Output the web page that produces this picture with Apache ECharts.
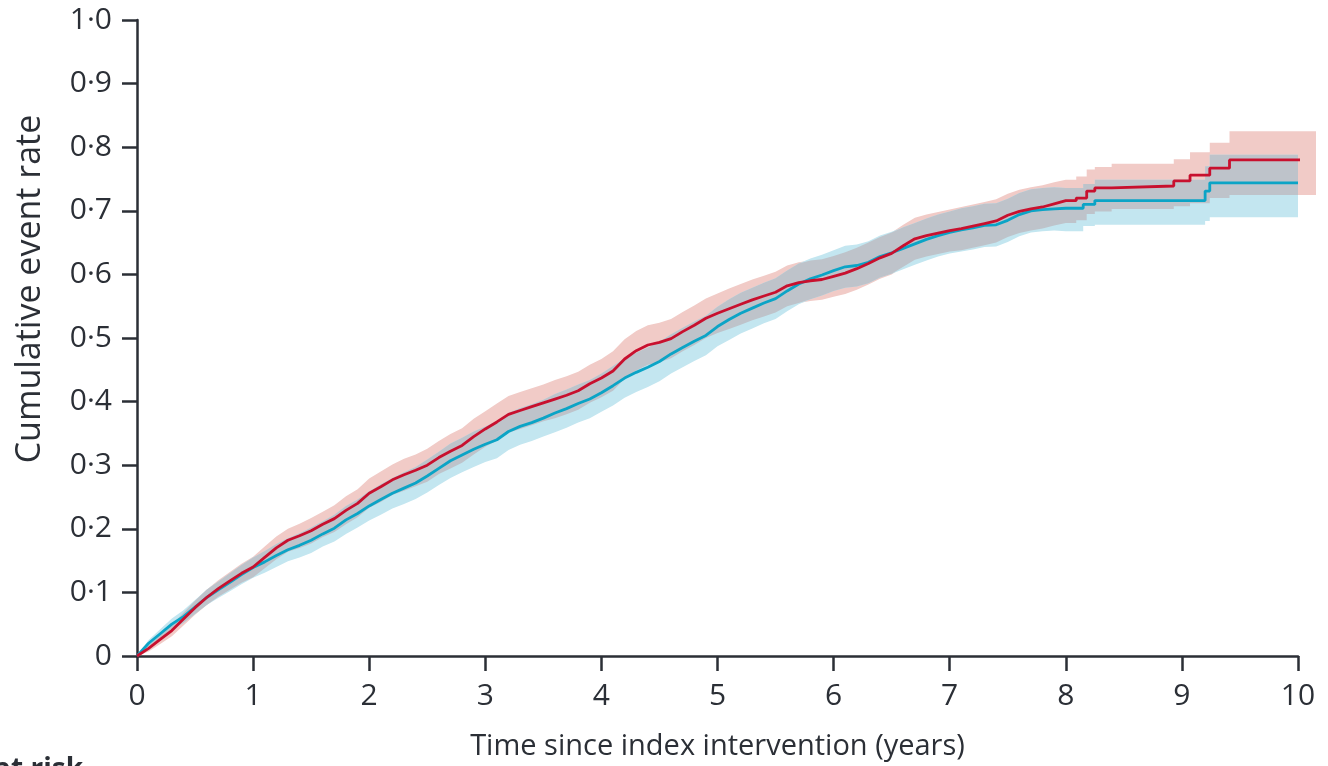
<!DOCTYPE html>
<html>
<head>
<meta charset="utf-8">
<script src="https://cdn.jsdelivr.net/npm/echarts@6/dist/echarts.min.js"></script>
<style>
html,body{margin:0;padding:0;background:#fff;}
#chart{width:1328px;height:766px;}
</style>
</head>
<body>
<div id="chart"></div>
<script>
// ---- data ----
const years = [
 0,0.1,0.2,0.3,0.4,0.5,0.6,0.7,0.8,0.9,
 1.0,1.1,1.2,1.3,1.4,1.5,1.6,1.7,1.8,1.9,
 2.0,2.1,2.2,2.3,2.4,2.5,2.6,2.7,2.8,2.9,
 3.0,3.1,3.2,3.3,3.4,3.5,3.6,3.7,3.8,3.9,
 4.0,4.1,4.2,4.3,4.4,4.5,4.6,4.7,4.8,4.9,
 5.0,5.1,5.2,5.3,5.4,5.5,5.6,5.7,5.8,5.9,
 6.0,6.1,6.2,6.3,6.4,6.5,6.6,6.7,6.8,6.9,
 7.0,7.1,7.2,7.3,7.4,7.5,7.6,7.7,7.8,7.9,
 8.0,8.09,8.09,8.15,8.15,8.18,8.18,8.25,8.25,8.395,8.395,8.93,8.93,9.07,9.07,9.2,9.2,9.24,9.24,9.41,9.41,10.0,10.155
];
const redRate = [
 0,0.012,0.026,0.040,0.058,0.076,0.092,0.106,0.118,0.130,
 0.140,0.155,0.170,0.182,0.189,0.197,0.207,0.216,0.229,0.240,
 0.256,0.266,0.277,0.285,0.292,0.300,0.312,0.322,0.331,0.345,
 0.357,0.368,0.380,0.386,0.392,0.398,0.404,0.410,0.417,0.428,
 0.437,0.448,0.467,0.480,0.489,0.493,0.499,0.510,0.520,0.531,
 0.539,0.546,0.553,0.560,0.566,0.572,0.582,0.587,0.590,0.592,
 0.597,0.602,0.609,0.617,0.626,0.633,0.645,0.656,0.661,0.665,
 0.669,0.672,0.676,0.680,0.684,0.693,0.699,0.703,0.706,0.711,
 0.716,0.716,0.720,0.720,0.720,0.720,0.731,0.731,0.736,0.736,0.739,0.739,0.747,0.747,0.756,0.756,0.756,0.756,0.767,0.767,0.780,0.780,0.780
];
const redUpper = [
 0,0.017,0.033,0.049,0.068,0.087,0.104,0.119,0.132,0.145,
 0.156,0.172,0.188,0.200,0.208,0.217,0.227,0.237,0.251,0.262,
 0.279,0.290,0.301,0.310,0.317,0.326,0.338,0.349,0.358,0.373,
 0.385,0.397,0.409,0.415,0.421,0.427,0.434,0.440,0.447,0.458,
 0.467,0.479,0.498,0.511,0.520,0.524,0.530,0.541,0.551,0.562,
 0.570,0.578,0.585,0.592,0.598,0.604,0.614,0.619,0.622,0.624,
 0.629,0.635,0.642,0.650,0.659,0.666,0.678,0.689,0.694,0.698,
 0.702,0.706,0.710,0.714,0.718,0.727,0.733,0.737,0.740,0.745,
 0.749,0.749,0.754,0.754,0.754,0.754,0.765,0.765,0.769,0.769,0.774,0.774,0.781,0.781,0.792,0.792,0.792,0.792,0.807,0.807,0.825,0.825,0.825
];
const redLower = [
 0,0.007,0.019,0.031,0.048,0.065,0.080,0.093,0.104,0.115,
 0.124,0.138,0.152,0.164,0.170,0.177,0.187,0.195,0.207,0.218,
 0.233,0.242,0.253,0.260,0.267,0.274,0.286,0.295,0.304,0.317,
 0.329,0.339,0.351,0.357,0.363,0.369,0.374,0.380,0.387,0.398,
 0.407,0.417,0.436,0.449,0.458,0.462,0.468,0.479,0.489,0.500,
 0.508,0.514,0.521,0.528,0.534,0.540,0.550,0.555,0.558,0.560,
 0.565,0.569,0.576,0.584,0.593,0.600,0.612,0.623,0.628,0.632,
 0.636,0.638,0.642,0.646,0.650,0.659,0.665,0.669,0.672,0.677,
 0.681,0.681,0.685,0.685,0.685,0.685,0.695,0.695,0.699,0.699,0.703,0.703,0.707,0.707,0.712,0.712,0.712,0.712,0.720,0.720,0.725,0.725,0.725
];
const blueRate = [
 0,0.020,0.035,0.050,0.062,0.077,0.092,0.104,0.116,0.128,
 0.139,0.148,0.158,0.167,0.174,0.182,0.192,0.201,0.214,0.224,
 0.236,0.246,0.256,0.264,0.272,0.283,0.295,0.307,0.316,0.325,
 0.333,0.340,0.353,0.361,0.367,0.374,0.382,0.389,0.397,0.404,
 0.414,0.425,0.437,0.446,0.454,0.463,0.475,0.485,0.495,0.504,
 0.518,0.529,0.539,0.547,0.555,0.562,0.574,0.585,0.593,0.599,
 0.606,0.612,0.614,0.619,0.628,0.634,0.641,0.648,0.655,0.661,
 0.666,0.670,0.673,0.677,0.678,0.685,0.694,0.700,0.702,0.703,
 0.704,0.704,0.704,0.704,0.710,0.710,0.710,0.710,0.716,0.716,0.716,0.716,0.716,0.716,0.716,0.716,0.731,0.731,0.744,0.744,0.744,0.744,null
];
const blueUpper = [
 0,0.025,0.042,0.059,0.072,0.088,0.104,0.117,0.130,0.143,
 0.155,0.165,0.176,0.185,0.193,0.202,0.212,0.222,0.236,0.246,
 0.259,0.270,0.280,0.289,0.297,0.309,0.321,0.334,0.343,0.353,
 0.361,0.369,0.382,0.390,0.396,0.403,0.412,0.419,0.427,0.434,
 0.444,0.456,0.468,0.477,0.485,0.494,0.506,0.516,0.526,0.535,
 0.549,0.561,0.571,0.579,0.587,0.594,0.606,0.617,0.625,0.631,
 0.638,0.645,0.647,0.652,0.661,0.667,0.674,0.681,0.688,0.694,
 0.699,0.704,0.707,0.711,0.712,0.719,0.728,0.734,0.736,0.737,
 0.736,0.736,0.736,0.736,0.742,0.742,0.742,0.742,0.749,0.749,0.749,0.749,0.749,0.749,0.749,0.749,0.770,0.770,0.788,0.788,0.788,0.788,null
];
const blueLower = [
 0,0.015,0.028,0.041,0.052,0.066,0.080,0.091,0.102,0.113,
 0.123,0.131,0.140,0.149,0.155,0.162,0.172,0.180,0.192,0.202,
 0.213,0.222,0.232,0.239,0.247,0.257,0.269,0.280,0.289,0.297,
 0.305,0.311,0.324,0.332,0.338,0.345,0.352,0.359,0.367,0.374,
 0.384,0.394,0.406,0.415,0.423,0.432,0.444,0.454,0.464,0.473,
 0.487,0.497,0.507,0.515,0.523,0.530,0.542,0.553,0.561,0.567,
 0.574,0.579,0.581,0.586,0.595,0.601,0.608,0.615,0.622,0.628,
 0.633,0.636,0.639,0.643,0.644,0.651,0.660,0.666,0.668,0.669,
 0.668,0.668,0.668,0.668,0.676,0.676,0.676,0.676,0.678,0.678,0.678,0.678,0.678,0.678,0.678,0.678,0.684,0.684,0.690,0.690,0.690,0.690,null
];
const xTickLabels = ['0','1','2','3','4','5','6','7','8','9','10'];
const yTickLabels = ['0','0·1','0·2','0·3','0·4','0·5','0·6','0·7','0·8','0·9','1·0'];
const xTitle = 'Time since index intervention (years)';
const yTitle = 'Cumulative event rate';
const riskTitle = 'Number at risk';

// ---- derived overlap of the two confidence bands ----
const overLower = years.map((t, i) => (blueLower[i] == null ? null : Math.max(redLower[i], blueLower[i])));
const overUpper = years.map((t, i) => {
  if (blueUpper[i] == null) return null;
  return Math.max(Math.min(redUpper[i], blueUpper[i]), overLower[i]);
});

const FONT = '"Open Sans", "Noto Sans", sans-serif';
const TXT = '#2b2f36';

function bandSeries(lower, upper, color, z) {
  return {
    type: 'custom',
    silent: true,
    clip: false,
    z: z,
    data: [[0, 0]],
    renderItem: function (params, api) {
      const pts = [];
      for (let i = 0; i < years.length; i++) {
        if (upper[i] != null) pts.push(api.coord([years[i], upper[i]]));
      }
      for (let i = years.length - 1; i >= 0; i--) {
        if (lower[i] != null) pts.push(api.coord([years[i], lower[i]]));
      }
      return { type: 'polygon', shape: { points: pts }, style: { fill: color, stroke: null } };
    }
  };
}
function lineSeries(vals, color, z) {
  const d = [];
  years.forEach((t, i) => { if (vals[i] != null) d.push([t, vals[i]]); });
  return {
    type: 'line', data: d, showSymbol: false, clip: false, silent: true, z: z,
    lineStyle: { color: color, width: 2.8 }, animation: false
  };
}

const chart = echarts.init(document.getElementById('chart'), null, { renderer: 'canvas' });
chart.setOption({
  animation: false,
  backgroundColor: '#ffffff',
  grid: { left: 137, right: 30, top: 20, bottom: 109, containLabel: false },
  xAxis: {
    type: 'value', min: 0, max: 10, interval: 1,
    name: xTitle, nameLocation: 'middle', nameGap: 76,
    nameTextStyle: { fontFamily: FONT, fontSize: 29, color: TXT },
    axisLine: { show: true, lineStyle: { color: TXT, width: 2.5 } },
    axisTick: { show: true, length: 15, lineStyle: { color: TXT, width: 2.5 } },
    axisLabel: { margin: 25, fontFamily: FONT, fontSize: 30, color: TXT,
      formatter: function (v) { return xTickLabels[Math.round(v)]; } },
    splitLine: { show: false }
  },
  yAxis: {
    type: 'value', min: 0, max: 1, interval: 0.1,
    axisLine: { show: true, lineStyle: { color: TXT, width: 2.5 } },
    axisTick: { show: true, length: 15, lineStyle: { color: TXT, width: 2.5 } },
    axisLabel: { margin: 25, fontFamily: FONT, fontSize: 30, color: TXT,
      formatter: function (v) { return yTickLabels[Math.round(v * 10)]; } },
    splitLine: { show: false }
  },
  graphic: [
    { type: 'text', x: 30, y: 289, rotation: Math.PI / 2,
      style: { text: yTitle, fontFamily: FONT, fontSize: 34, fill: TXT, align: 'center', verticalAlign: 'middle' } },
    { type: 'text', x: 83, y: 756,
      style: { text: riskTitle, fontFamily: FONT, fontSize: 28, fontWeight: 'bold', fill: TXT, align: 'right', verticalAlign: 'top' } }
  ],
  series: [
    bandSeries(redLower, redUpper, '#f1cbc7', 1),
    bandSeries(blueLower, blueUpper, '#c3e6f0', 2),
    bandSeries(overLower, overUpper, '#bec3ca', 3),
    lineSeries(blueRate, '#0ba4c6', 5),
    lineSeries(redRate, '#c8102e', 6)
  ]
});
</script>
</body>
</html>
